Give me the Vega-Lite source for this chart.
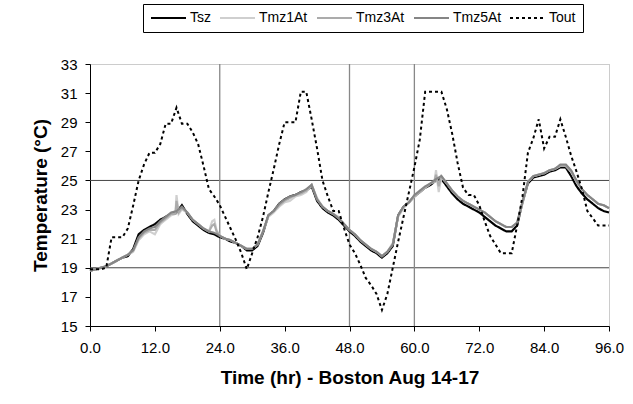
{
"$schema": "https://vega.github.io/schema/vega-lite/v6.json",
"width": 519, "height": 262,
"autosize": "none",
"padding": {"left": 90, "top": 64, "right": 24, "bottom": 78},
"background": "white",
"config": {"view": {"stroke": "#999", "strokeDash": [1, 1]}, "font": "Liberation Sans",
 "axis": {"labelOverlap": false, "labelFlush": false, "grid": false, "labelFontSize": 15, "labelColor": "black",
  "tickSize": 5, "tickColor": "black", "domainColor": "black", "titleFontSize": 19, "titleFontWeight": "bold", "titleColor": "black"},
 "axisX": {"labelPadding": 9, "titlePadding": 13},
 "axisY": {"labelPadding": 8, "titlePadding": 10}},
"datasets": {
"hgrid": [{"temp": 19}, {"temp": 25}],
"vgrid": [{"t": 24}, {"t": 48}, {"t": 60}],
"temps": [
{"t":0,"Tsz":18.8,"Tmz1At":18.8,"Tmz3At":18.8,"Tmz5At":18.8,"Tout":18.9},
{"t":1,"Tsz":18.9,"Tmz1At":18.9,"Tmz3At":18.9,"Tmz5At":18.9,"Tout":18.9},
{"t":2,"Tsz":19.0,"Tmz1At":19.0,"Tmz3At":19.0,"Tmz5At":19.0,"Tout":18.9},
{"t":3,"Tsz":19.1,"Tmz1At":19.1,"Tmz3At":19.1,"Tmz5At":19.1,"Tout":19.0},
{"t":4,"Tsz":19.3,"Tmz1At":19.3,"Tmz3At":19.3,"Tmz5At":19.3,"Tout":21.1},
{"t":5,"Tsz":19.5,"Tmz1At":19.5,"Tmz3At":19.5,"Tmz5At":19.5,"Tout":21.1},
{"t":6,"Tsz":19.7,"Tmz1At":19.7,"Tmz3At":19.7,"Tmz5At":19.7,"Tout":21.1},
{"t":7,"Tsz":19.8,"Tmz1At":19.9,"Tmz3At":19.9,"Tmz5At":19.9,"Tout":21.7},
{"t":8,"Tsz":20.3,"Tmz1At":20.1,"Tmz3At":20.2,"Tmz5At":20.2,"Tout":23.3},
{"t":9,"Tsz":21.3,"Tmz1At":20.9,"Tmz3At":21.0,"Tmz5At":21.1,"Tout":25.0},
{"t":10,"Tsz":21.6,"Tmz1At":21.3,"Tmz3At":21.4,"Tmz5At":21.5,"Tout":26.1},
{"t":11,"Tsz":21.8,"Tmz1At":21.5,"Tmz3At":21.6,"Tmz5At":21.7,"Tout":26.9},
{"t":12,"Tsz":22.0,"Tmz1At":21.3,"Tmz3At":21.6,"Tmz5At":21.8,"Tout":26.9},
{"t":13,"Tsz":22.3,"Tmz1At":22.0,"Tmz3At":22.1,"Tmz5At":22.2,"Tout":27.5},
{"t":14,"Tsz":22.5,"Tmz1At":22.3,"Tmz3At":22.4,"Tmz5At":22.5,"Tout":28.9},
{"t":15,"Tsz":22.7,"Tmz1At":22.6,"Tmz3At":22.7,"Tmz5At":22.8,"Tout":28.9},
{"t":15.8,"Tmz1At":22.7,"Tmz3At":22.7},
{"t":16,"Tsz":22.8,"Tmz1At":24.0,"Tmz3At":23.6,"Tmz5At":22.9,"Tout":30.0},
{"t":16.4,"Tmz1At":22.7,"Tmz3At":22.8},
{"t":17,"Tsz":23.3,"Tmz1At":23.0,"Tmz3At":23.1,"Tmz5At":23.2,"Tout":28.9},
{"t":18,"Tsz":22.7,"Tmz1At":22.8,"Tmz3At":22.8,"Tmz5At":22.8,"Tout":28.9},
{"t":19,"Tsz":22.2,"Tmz1At":22.3,"Tmz3At":22.3,"Tmz5At":22.3,"Tout":28.3},
{"t":20,"Tsz":21.9,"Tmz1At":22.0,"Tmz3At":22.0,"Tmz5At":22.0,"Tout":27.5},
{"t":21,"Tsz":21.6,"Tmz1At":21.7,"Tmz3At":21.7,"Tmz5At":21.7,"Tout":26.0},
{"t":22,"Tsz":21.4,"Tmz1At":21.5,"Tmz3At":21.5,"Tmz5At":21.5,"Tout":24.4},
{"t":22.6,"Tmz1At":22.2,"Tmz3At":21.9},
{"t":23,"Tsz":21.3,"Tmz1At":22.3,"Tmz3At":22.0,"Tmz5At":21.4,"Tout":23.9},
{"t":23.4,"Tmz1At":21.6,"Tmz3At":21.5},
{"t":24,"Tsz":21.1,"Tmz1At":21.2,"Tmz3At":21.2,"Tmz5At":21.2,"Tout":23.3},
{"t":25,"Tsz":21.0,"Tmz1At":21.0,"Tmz3At":21.0,"Tmz5At":21.0,"Tout":22.5},
{"t":26,"Tsz":20.8,"Tmz1At":20.9,"Tmz3At":20.9,"Tmz5At":20.9,"Tout":21.7},
{"t":27,"Tsz":20.7,"Tmz1At":20.7,"Tmz3At":20.7,"Tmz5At":20.7,"Tout":20.9},
{"t":28,"Tsz":20.5,"Tmz1At":20.5,"Tmz3At":20.5,"Tmz5At":20.5,"Tout":20.0},
{"t":29,"Tsz":20.2,"Tmz1At":20.3,"Tmz3At":20.3,"Tmz5At":20.3,"Tout":18.9},
{"t":30,"Tsz":20.2,"Tmz1At":20.3,"Tmz3At":20.3,"Tmz5At":20.3,"Tout":20.0},
{"t":31,"Tsz":20.5,"Tmz1At":20.6,"Tmz3At":20.6,"Tmz5At":20.6,"Tout":21.1},
{"t":32,"Tsz":21.4,"Tmz1At":21.5,"Tmz3At":21.5,"Tmz5At":21.5,"Tout":22.5},
{"t":33,"Tsz":22.6,"Tmz1At":22.5,"Tmz3At":22.6,"Tmz5At":22.6,"Tout":24.2},
{"t":34,"Tsz":22.9,"Tmz1At":22.8,"Tmz3At":22.9,"Tmz5At":22.9,"Tout":25.8},
{"t":35,"Tsz":23.4,"Tmz1At":23.2,"Tmz3At":23.3,"Tmz5At":23.4,"Tout":27.5},
{"t":36,"Tsz":23.7,"Tmz1At":23.5,"Tmz3At":23.6,"Tmz5At":23.7,"Tout":29.0},
{"t":37,"Tsz":23.9,"Tmz1At":23.6,"Tmz3At":23.8,"Tmz5At":23.9,"Tout":29.0},
{"t":38,"Tsz":24.0,"Tmz1At":23.9,"Tmz3At":24.0,"Tmz5At":24.0,"Tout":29.0},
{"t":39,"Tsz":24.2,"Tmz1At":24.0,"Tmz3At":24.1,"Tmz5At":24.2,"Tout":31.1},
{"t":40,"Tsz":24.3,"Tmz1At":24.2,"Tmz3At":24.3,"Tmz5At":24.4,"Tout":31.1},
{"t":41,"Tsz":24.6,"Tmz1At":24.7,"Tmz3At":24.7,"Tmz5At":24.7,"Tout":29.2},
{"t":42,"Tsz":23.6,"Tmz1At":23.8,"Tmz3At":23.7,"Tmz5At":23.7,"Tout":27.2},
{"t":43,"Tsz":23.1,"Tmz1At":23.2,"Tmz3At":23.2,"Tmz5At":23.2,"Tout":25.0},
{"t":44,"Tsz":22.8,"Tmz1At":22.9,"Tmz3At":22.9,"Tmz5At":22.9,"Tout":23.9},
{"t":45,"Tsz":22.6,"Tmz1At":22.7,"Tmz3At":22.7,"Tmz5At":22.7,"Tout":22.9},
{"t":46,"Tsz":22.3,"Tmz1At":22.5,"Tmz3At":22.4,"Tmz5At":22.4,"Tout":22.9},
{"t":47,"Tsz":21.9,"Tmz1At":22.0,"Tmz3At":22.0,"Tmz5At":22.0,"Tout":21.7},
{"t":48,"Tsz":21.5,"Tmz1At":21.6,"Tmz3At":21.6,"Tmz5At":21.6,"Tout":20.6},
{"t":49,"Tsz":21.2,"Tmz1At":21.3,"Tmz3At":21.3,"Tmz5At":21.3,"Tout":20.0},
{"t":50,"Tsz":20.8,"Tmz1At":20.9,"Tmz3At":20.9,"Tmz5At":20.9,"Tout":19.2},
{"t":51,"Tsz":20.5,"Tmz1At":20.6,"Tmz3At":20.6,"Tmz5At":20.6,"Tout":18.3},
{"t":52,"Tsz":20.2,"Tmz1At":20.3,"Tmz3At":20.3,"Tmz5At":20.3,"Tout":17.8},
{"t":53,"Tsz":20.0,"Tmz1At":20.1,"Tmz3At":20.1,"Tmz5At":20.1,"Tout":17.2},
{"t":54,"Tsz":19.7,"Tmz1At":19.8,"Tmz3At":19.8,"Tmz5At":19.8,"Tout":16.1},
{"t":55,"Tsz":20.0,"Tmz1At":20.1,"Tmz3At":20.1,"Tmz5At":20.1,"Tout":17.2},
{"t":56,"Tsz":20.5,"Tmz1At":20.7,"Tmz3At":20.6,"Tmz5At":20.6,"Tout":19.0},
{"t":57,"Tsz":22.6,"Tmz1At":22.5,"Tmz3At":22.6,"Tmz5At":22.6,"Tout":20.8},
{"t":58,"Tsz":23.2,"Tmz1At":23.1,"Tmz3At":23.2,"Tmz5At":23.2,"Tout":22.5},
{"t":59,"Tsz":23.5,"Tmz1At":23.5,"Tmz3At":23.5,"Tmz5At":23.5,"Tout":24.2},
{"t":60,"Tsz":23.9,"Tmz1At":23.9,"Tmz3At":23.9,"Tmz5At":24.0,"Tout":25.9},
{"t":61,"Tsz":24.2,"Tmz1At":24.2,"Tmz3At":24.2,"Tmz5At":24.3,"Tout":27.8},
{"t":62,"Tsz":24.5,"Tmz1At":24.5,"Tmz3At":24.5,"Tmz5At":24.6,"Tout":31.1},
{"t":63,"Tsz":24.7,"Tmz1At":24.8,"Tmz3At":24.8,"Tmz5At":24.8,"Tout":31.1},
{"t":63.7,"Tmz1At":24.9,"Tmz3At":24.9},
{"t":64,"Tsz":25.0,"Tmz1At":25.7,"Tmz3At":25.4,"Tmz5At":25.1,"Tout":31.1},
{"t":64.5,"Tmz1At":24.2,"Tmz3At":24.6},
{"t":65,"Tsz":25.1,"Tmz1At":25.2,"Tmz3At":25.3,"Tmz5At":25.3,"Tout":31.1},
{"t":66,"Tsz":24.6,"Tmz1At":24.8,"Tmz3At":24.8,"Tmz5At":24.8,"Tout":29.9},
{"t":67,"Tsz":24.1,"Tmz1At":24.3,"Tmz3At":24.3,"Tmz5At":24.3,"Tout":28.2},
{"t":68,"Tsz":23.7,"Tmz1At":23.9,"Tmz3At":23.9,"Tmz5At":23.9,"Tout":26.2},
{"t":69,"Tsz":23.4,"Tmz1At":23.6,"Tmz3At":23.6,"Tmz5At":23.6,"Tout":24.5},
{"t":70,"Tsz":23.2,"Tmz1At":23.4,"Tmz3At":23.4,"Tmz5At":23.4,"Tout":24.0},
{"t":71,"Tsz":23.0,"Tmz1At":23.2,"Tmz3At":23.2,"Tmz5At":23.2,"Tout":24.0},
{"t":72,"Tsz":22.8,"Tmz1At":23.0,"Tmz3At":23.0,"Tmz5At":23.0,"Tout":23.3},
{"t":73,"Tsz":22.5,"Tmz1At":22.8,"Tmz3At":22.8,"Tmz5At":22.8,"Tout":22.2},
{"t":74,"Tsz":22.2,"Tmz1At":22.5,"Tmz3At":22.5,"Tmz5At":22.5,"Tout":21.2},
{"t":75,"Tsz":21.9,"Tmz1At":22.2,"Tmz3At":22.2,"Tmz5At":22.2,"Tout":20.6},
{"t":76,"Tsz":21.7,"Tmz1At":22.0,"Tmz3At":22.0,"Tmz5At":22.0,"Tout":20.0},
{"t":77,"Tsz":21.5,"Tmz1At":21.8,"Tmz3At":21.8,"Tmz5At":21.8,"Tout":20.0},
{"t":78,"Tsz":21.5,"Tmz1At":21.8,"Tmz3At":21.8,"Tmz5At":21.8,"Tout":20.0},
{"t":79,"Tsz":21.9,"Tmz1At":22.1,"Tmz3At":22.1,"Tmz5At":22.1,"Tout":21.9},
{"t":80,"Tsz":23.5,"Tmz1At":23.4,"Tmz3At":23.5,"Tmz5At":23.5,"Tout":23.9},
{"t":81,"Tsz":24.8,"Tmz1At":24.9,"Tmz3At":24.9,"Tmz5At":24.9,"Tout":26.9},
{"t":82,"Tsz":25.2,"Tmz1At":25.3,"Tmz3At":25.3,"Tmz5At":25.3,"Tout":27.9},
{"t":83,"Tsz":25.3,"Tmz1At":25.4,"Tmz3At":25.4,"Tmz5At":25.4,"Tout":29.2},
{"t":84,"Tsz":25.4,"Tmz1At":25.5,"Tmz3At":25.5,"Tmz5At":25.5,"Tout":27.2},
{"t":85,"Tsz":25.6,"Tmz1At":25.7,"Tmz3At":25.7,"Tmz5At":25.7,"Tout":28.0},
{"t":86,"Tsz":25.7,"Tmz1At":25.8,"Tmz3At":25.8,"Tmz5At":25.8,"Tout":28.0},
{"t":87,"Tsz":25.9,"Tmz1At":26.0,"Tmz3At":26.0,"Tmz5At":26.1,"Tout":29.2},
{"t":88,"Tsz":25.9,"Tmz1At":26.0,"Tmz3At":26.0,"Tmz5At":26.1,"Tout":28.0},
{"t":89,"Tsz":25.3,"Tmz1At":25.6,"Tmz3At":25.6,"Tmz5At":25.7,"Tout":26.7},
{"t":90,"Tsz":24.6,"Tmz1At":24.9,"Tmz3At":24.9,"Tmz5At":25.0,"Tout":25.6},
{"t":91,"Tsz":24.1,"Tmz1At":24.4,"Tmz3At":24.4,"Tmz5At":24.4,"Tout":24.4},
{"t":92,"Tsz":23.7,"Tmz1At":24.0,"Tmz3At":24.0,"Tmz5At":24.0,"Tout":22.9},
{"t":93,"Tsz":23.4,"Tmz1At":23.7,"Tmz3At":23.7,"Tmz5At":23.7,"Tout":22.4},
{"t":94,"Tsz":23.1,"Tmz1At":23.4,"Tmz3At":23.4,"Tmz5At":23.4,"Tout":21.9},
{"t":95,"Tsz":22.9,"Tmz1At":23.3,"Tmz3At":23.3,"Tmz5At":23.3,"Tout":21.9},
{"t":96,"Tsz":22.8,"Tmz1At":23.1,"Tmz3At":23.1,"Tmz5At":23.1,"Tout":21.9}
]
},
"layer": [
{"data": {"name": "hgrid"}, "mark": {"type": "rule", "color": "#444", "strokeWidth": 1},
 "encoding": {"y": {"field": "temp", "type": "quantitative", "scale": {"domain": [15, 33], "nice": false},
   "axis": {"values": [15, 17, 19, 21, 23, 25, 27, 29, 31, 33], "title": "Temperature (°C)", "labelOverlap": false}}}},
{"data": {"name": "vgrid"}, "mark": {"type": "rule", "color": "#888", "strokeWidth": 1.3},
 "encoding": {"x": {"field": "t", "type": "quantitative", "scale": {"domain": [0, 96], "nice": false},
   "axis": {"values": [0, 12, 24, 36, 48, 60, 72, 84, 96], "format": ".1f", "title": "Time (hr) - Boston Aug 14-17", "labelOverlap": false}}}},
{"data": {"name": "temps"},
 "transform": [
  {"fold": ["Tsz", "Tmz1At", "Tmz3At", "Tmz5At", "Tout"], "as": ["series", "temp"]},
  {"filter": "isValid(datum.temp)"}
 ],
 "mark": {"type": "line"},
 "encoding": {
  "x": {"field": "t", "type": "quantitative", "scale": {"domain": [0, 96], "nice": false},
   "axis": {"values": [0, 12, 24, 36, 48, 60, 72, 84, 96], "format": ".1f", "title": "Time (hr) - Boston Aug 14-17", "labelOverlap": false}},
  "y": {"field": "temp", "type": "quantitative", "scale": {"domain": [15, 33], "nice": false},
   "axis": {"values": [15, 17, 19, 21, 23, 25, 27, 29, 31, 33], "title": "Temperature (°C)", "labelOverlap": false}},
  "color": {"field": "series", "type": "nominal",
   "scale": {"domain": ["Tsz", "Tmz1At", "Tmz3At", "Tmz5At", "Tout"], "range": ["#000000", "#cfcfcf", "#ababab", "#858585", "#000000"]},
   "legend": {"title": null, "orient": "none", "legendX": 53, "legendY": -60, "direction": "horizontal",
    "strokeColor": "black", "padding": 7, "symbolType": "M-1.2,0H5.8", "symbolSize": 100, "labelFontSize": 14, "labelColor": "black",
    "columnPadding": 4, "labelOffset": 26}},
  "strokeDash": {"field": "series", "type": "nominal",
   "scale": {"domain": ["Tsz", "Tmz1At", "Tmz3At", "Tmz5At", "Tout"], "range": [[1, 0], [1, 0], [1, 0], [1, 0], [3, 3]]}},
  "strokeWidth": {"field": "series", "type": "nominal",
   "scale": {"domain": ["Tsz", "Tmz1At", "Tmz3At", "Tmz5At", "Tout"], "range": [2.2, 2, 2.5, 3.2, 1.3]}}
 }}
]
}
